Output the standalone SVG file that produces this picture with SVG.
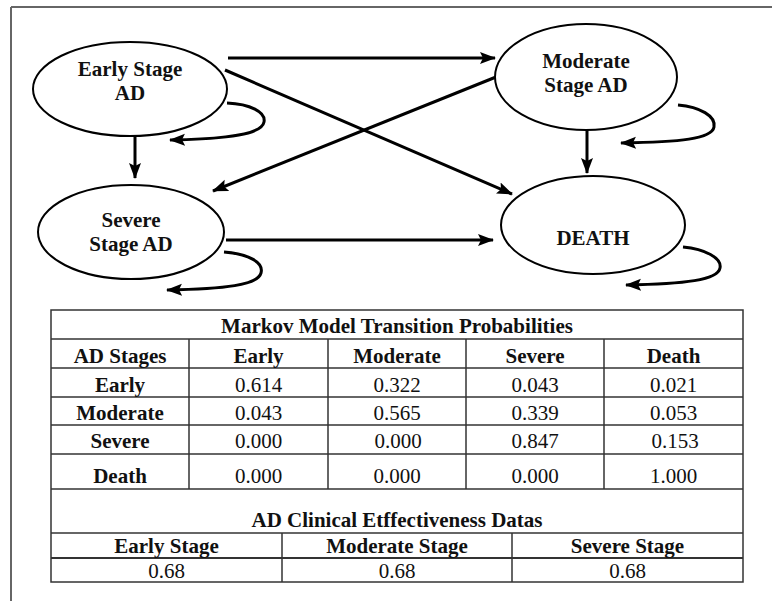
<svg xmlns="http://www.w3.org/2000/svg" width="772" height="601" viewBox="0 0 772 601">
<defs>
<marker id="ah" markerUnits="userSpaceOnUse" markerWidth="18" markerHeight="14" refX="15" refY="7" orient="auto">
<path d="M0,1 L16,7 L0,13 L3,7 z" fill="#000"/>
</marker>
<style>
.node ellipse{fill:#fff;stroke:#000;stroke-width:2}
.nt{font-family:"Liberation Serif","Times New Roman",serif;font-weight:bold;font-size:21px;text-anchor:middle;fill:#111}
.conn path,.conn line{fill:none;stroke:#000;stroke-width:3;marker-end:url(#ah)}
.grid line{stroke:#333;stroke-width:1.5}
.tb{font-family:"Liberation Serif","Times New Roman",serif;font-weight:bold;font-size:21px;text-anchor:middle;fill:#111}
.tv{font-family:"Liberation Serif","Times New Roman",serif;font-size:21px;text-anchor:middle;fill:#111}
</style>
</defs>
<rect width="772" height="601" fill="#fff"/>
<g id="frame" stroke="#666" stroke-width="2" fill="none">
<line x1="11" y1="7" x2="772" y2="7"/>
<line x1="11" y1="7" x2="11" y2="601"/>
</g>

<g class="conn" id="connectors">
<line x1="228" y1="58" x2="495" y2="58"/>
<line x1="225" y1="70" x2="512" y2="194"/>
<line x1="496" y1="77" x2="213" y2="191"/>
<line x1="135" y1="136" x2="135" y2="178"/>
<line x1="226" y1="240" x2="493" y2="240"/>
<line x1="587" y1="130" x2="587" y2="173"/>
<path d="M227,103 C250,104 266,112 264,122 C262,134 230,139 170,140"/>
<path d="M224,252 C248,254 264,262 261,273 C258,285 225,289 167,290"/>
<path d="M678,105 C700,107 716,116 714,127 C712,139 680,142 621,143"/>
<path d="M683,247 C705,249 722,258 720,268 C718,280 685,284 626,285"/>
</g>

<g class="node" id="early">
<ellipse cx="130" cy="89" rx="97" ry="47"/>
<text class="nt" x="130" y="76">Early Stage</text>
<text class="nt" x="130" y="100">AD</text>
</g>
<g class="node" id="moderate">
<ellipse cx="586" cy="77" rx="91" ry="53"/>
<text class="nt" x="586" y="68">Moderate</text>
<text class="nt" x="586" y="92">Stage AD</text>
</g>
<g class="node" id="severe">
<ellipse cx="131" cy="232" rx="93" ry="47"/>
<text class="nt" x="131" y="227">Severe</text>
<text class="nt" x="131" y="251">Stage AD</text>
</g>
<g class="node" id="death">
<ellipse cx="593" cy="225" rx="92" ry="49"/>
<text class="nt" x="593" y="245">DEATH</text>
</g>

<g id="table">
<rect x="51" y="310" width="692" height="272" fill="#fff" stroke="#333" stroke-width="1.5"/>
<g class="grid">
<line x1="51" y1="339" x2="743" y2="339"/>
<line x1="51" y1="368" x2="743" y2="368"/>
<line x1="51" y1="397" x2="743" y2="397"/>
<line x1="51" y1="425" x2="743" y2="425"/>
<line x1="51" y1="454" x2="743" y2="454"/>
<line x1="51" y1="489" x2="743" y2="489"/>
<line x1="189" y1="339" x2="189" y2="489"/>
<line x1="328" y1="339" x2="328" y2="489"/>
<line x1="466" y1="339" x2="466" y2="489"/>
<line x1="604" y1="339" x2="604" y2="489"/>
<line x1="51" y1="533" x2="743" y2="533"/>
<line x1="51" y1="558" x2="743" y2="558" style="stroke-width:2.2"/>
<line x1="282" y1="533" x2="282" y2="582"/>
<line x1="512" y1="533" x2="512" y2="582"/>
</g>
<text class="tb" x="397" y="333">Markov Model Transition Probabilities</text>
<text class="tb" x="120" y="363">AD Stages</text>
<text class="tb" x="258.5" y="363">Early</text>
<text class="tb" x="397" y="363">Moderate</text>
<text class="tb" x="535" y="363">Severe</text>
<text class="tb" x="673.5" y="363">Death</text>

<text class="tb" x="120" y="392">Early</text>
<text class="tv" x="258.5" y="392">0.614</text>
<text class="tv" x="397" y="392">0.322</text>
<text class="tv" x="535" y="392">0.043</text>
<text class="tv" x="673.5" y="392">0.021</text>

<text class="tb" x="120" y="420">Moderate</text>
<text class="tv" x="258.5" y="420">0.043</text>
<text class="tv" x="397" y="420">0.565</text>
<text class="tv" x="535" y="420">0.339</text>
<text class="tv" x="673.5" y="420">0.053</text>

<text class="tb" x="120" y="448">Severe</text>
<text class="tv" x="258.5" y="448">0.000</text>
<text class="tv" x="398" y="448">0.000</text>
<text class="tv" x="535" y="448">0.847</text>
<text class="tv" x="675" y="448">0.153</text>

<text class="tb" x="120" y="483">Death</text>
<text class="tv" x="258.5" y="483">0.000</text>
<text class="tv" x="397" y="483">0.000</text>
<text class="tv" x="535" y="483">0.000</text>
<text class="tv" x="673.5" y="483">1.000</text>

<text class="tb" x="397" y="527">AD Clinical Etffectiveness Datas</text>
<text class="tb" x="166.5" y="553">Early Stage</text>
<text class="tb" x="397" y="553">Moderate Stage</text>
<text class="tb" x="627.5" y="553">Severe Stage</text>
<text class="tv" x="166.5" y="578">0.68</text>
<text class="tv" x="397" y="578">0.68</text>
<text class="tv" x="627.5" y="578">0.68</text>
</g>
</svg>
